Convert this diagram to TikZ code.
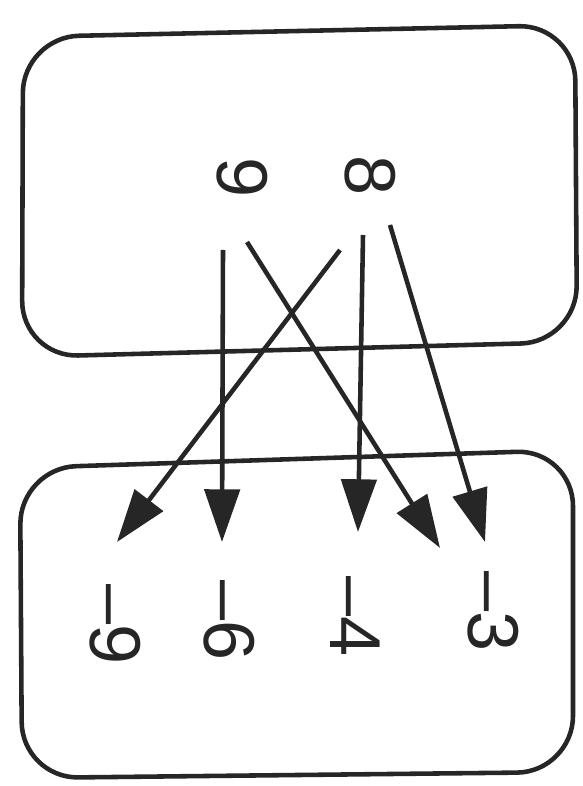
\documentclass[tikz,border=0pt]{standalone}
\usepackage{tikz}
\usepackage{fontspec}
\newfontfamily\setfont{Liberation Sans}
\usetikzlibrary{arrows.meta}

\begin{document}
\begin{tikzpicture}[x=0.02cm,y=-0.02cm,
    setbox/.style={line width=2.6pt,black!85,rounded corners=32},
    arr/.style={line width=2.6pt,black!85,-{Triangle[length=30pt,width=20pt]}},
    lbl/.style={rotate=-90,inner sep=0pt,black!85,font=\setfont\fontsize{41}{46}\selectfont}]
    \useasboundingbox (0,0) rectangle (582,786);

    % the two sets
    \draw[setbox] (23,37) -- (575,25) -- (577,342) -- (22,357) -- cycle;
    \draw[setbox] (20,468) -- (573,450) -- (573,772) -- (22,778) -- cycle;

    \node[lbl] (9) at (242,178) {9};
    \node[lbl] (8) at (370,176) {8};

    \node[lbl] (m9) at (115,625) {\textendash9};
    \node[lbl] (m6) at (229,621) {\textendash6};
    \node[lbl] (m4) at (355,617) {\textendash4};
    \node[lbl] (m3) at (493,612) {\textendash3};

    % arrow ends
    \coordinate (9a) at (223,250);
    \coordinate (9b) at (247,242);
    \coordinate (8a) at (340,250);
    \coordinate (8b) at (363,235);
    \coordinate (8c) at (390,225);
    \coordinate (m9t) at (117,542);
    \coordinate (m6t) at (222,542);
    \coordinate (m4t) at (358,532);
    \coordinate (m3a) at (440,548);
    \coordinate (m3b) at (485,542);

    \draw[arr] (9a) -- (m6t);
    \draw[arr] (9b) -- (m3a);
    \draw[arr] (8a) -- (m9t);
    \draw[arr] (8b) -- (m4t);
    \draw[arr] (8c) -- (m3b);
\end{tikzpicture}
\end{document}
